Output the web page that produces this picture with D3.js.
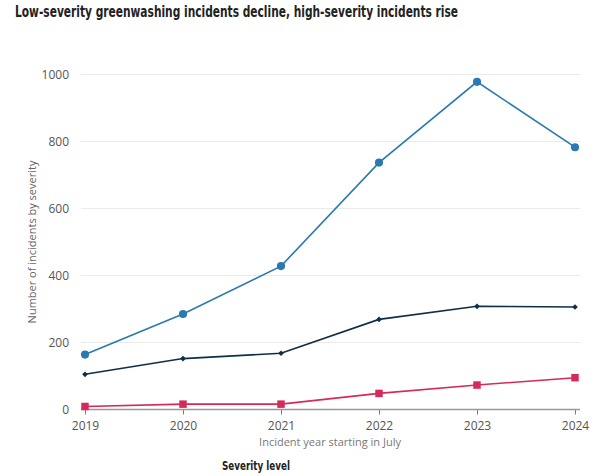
<!DOCTYPE html>
<html>
<head>
<meta charset="utf-8">
<script src="https://cdn.jsdelivr.net/npm/d3@7"></script>
<style>
  html, body { margin: 0; padding: 0; background: #fff; }
  svg { display: block; }
  .cond { font-family: "Liberation Sans Narrow", "DejaVu Sans Condensed", "Roboto", sans-serif; }
</style>
</head>
<body>
<svg id="chart" width="600" height="476"></svg>
<script>
const years = [2019, 2020, 2021, 2022, 2023, 2024];
const yTicks = [0, 200, 400, 600, 800, 1000];
const seriesNames = ["Low", "Medium", "High"];
const lowValues = [164, 285, 428, 737, 978, 783];
const mediumValues = [105, 152, 168, 269, 308, 306];
const highValues = [9, 16, 16, 48, 73, 95];
const seriesColors = ["#2b79b0", "#0e2f46", "#d62a5b"];
const seriesMarkers = ["circle", "diamond", "square"];

const svg = d3.select("#chart");

const x = d3.scalePoint().domain(years).range([85, 575]);
const y = d3.scaleLinear().domain([0, 1000]).range([409.5, 74.5]);

// Title
svg.append("text")
  .attr("class", "cond")
  .attr("x", 15).attr("y", 17)
  .attr("font-size", 15).attr("font-weight", "bold")
  .attr("fill", "#222")
  .attr("textLength", 443).attr("lengthAdjust", "spacingAndGlyphs")
  .text("Low-severity greenwashing incidents decline, high-severity incidents rise");

// Gridlines
svg.append("g")
  .selectAll("line")
  .data(yTicks.filter(d => d > 0))
  .join("line")
  .attr("x1", 81).attr("x2", 580)
  .attr("y1", d => y(d)).attr("y2", d => y(d))
  .attr("stroke", "#ebebeb").attr("stroke-width", 1);

// Y axis
const yAxis = svg.append("g")
  .attr("transform", "translate(81,0)")
  .call(d3.axisLeft(y).tickValues(yTicks).tickSize(0).tickPadding(12).tickFormat(d3.format("d")));
yAxis.select(".domain").remove();
yAxis.selectAll("text")
  .attr("font-family", "'Open Sans', 'Noto Sans', sans-serif")
  .attr("font-size", 12).attr("fill", "#555");

// X axis
const xAxis = svg.append("g")
  .attr("transform", "translate(0,409.5)")
  .call(d3.axisBottom(x).tickSize(5).tickPadding(7).tickFormat(d3.format("d")));
xAxis.select(".domain").remove();
xAxis.selectAll(".tick line").attr("stroke", "#777").attr("stroke-width", 1);
xAxis.selectAll("text")
  .attr("font-family", "'Open Sans', 'Noto Sans', sans-serif")
  .attr("font-size", 12).attr("fill", "#555");
svg.append("line")
  .attr("x1", 81).attr("x2", 580)
  .attr("y1", 409.5).attr("y2", 409.5)
  .attr("stroke", "#999").attr("stroke-width", 1.6);

// Axis titles
svg.append("text")
  .attr("transform", `translate(36,${(y(0) + y(1000)) / 2}) rotate(-90)`)
  .attr("text-anchor", "middle")
  .attr("font-family", "'Open Sans', 'Noto Sans', sans-serif")
  .attr("font-size", 11).attr("fill", "#666")
  .text("Number of incidents by severity");

svg.append("text")
  .attr("x", (x(2019) + x(2024)) / 2).attr("y", 446)
  .attr("text-anchor", "middle")
  .attr("font-family", "'Open Sans', 'Noto Sans', sans-serif")
  .attr("font-size", 11).attr("fill", "#777")
  .text("Incident year starting in July");

// Series
const allValues = [lowValues, mediumValues, highValues];
const line = d3.line().x((d, i) => x(years[i])).y(d => y(d));
const symbolTypes = { circle: d3.symbolCircle, diamond: d3.symbolSquare, square: d3.symbolSquare };
const symbolSizes = { circle: 52, diamond: 16, square: 56 };
const symbolRot = { circle: 0, diamond: 45, square: 0 };

[2, 1, 0].forEach(si => {
  const vals = allValues[si];
  const m = seriesMarkers[si];
  const g = svg.append("g");
  g.append("path")
    .datum(vals)
    .attr("d", line)
    .attr("fill", "none")
    .attr("stroke", seriesColors[si])
    .attr("stroke-width", 1.6);
  g.selectAll("path.pt")
    .data(vals)
    .join("path")
    .attr("class", "pt")
    .attr("transform", (d, i) => `translate(${x(years[i])},${y(d)}) rotate(${symbolRot[m]})`)
    .attr("d", d3.symbol().type(symbolTypes[m]).size(symbolSizes[m]))
    .attr("fill", seriesColors[si]);
});

// Legend title (legend items fall below the visible area)
svg.append("text")
  .attr("class", "cond")
  .attr("x", 222).attr("y", 470)
  .attr("font-size", 12).attr("font-weight", "bold")
  .attr("fill", "#222")
  .attr("textLength", 68).attr("lengthAdjust", "spacingAndGlyphs")
  .text("Severity level");
</script>
</body>
</html>
